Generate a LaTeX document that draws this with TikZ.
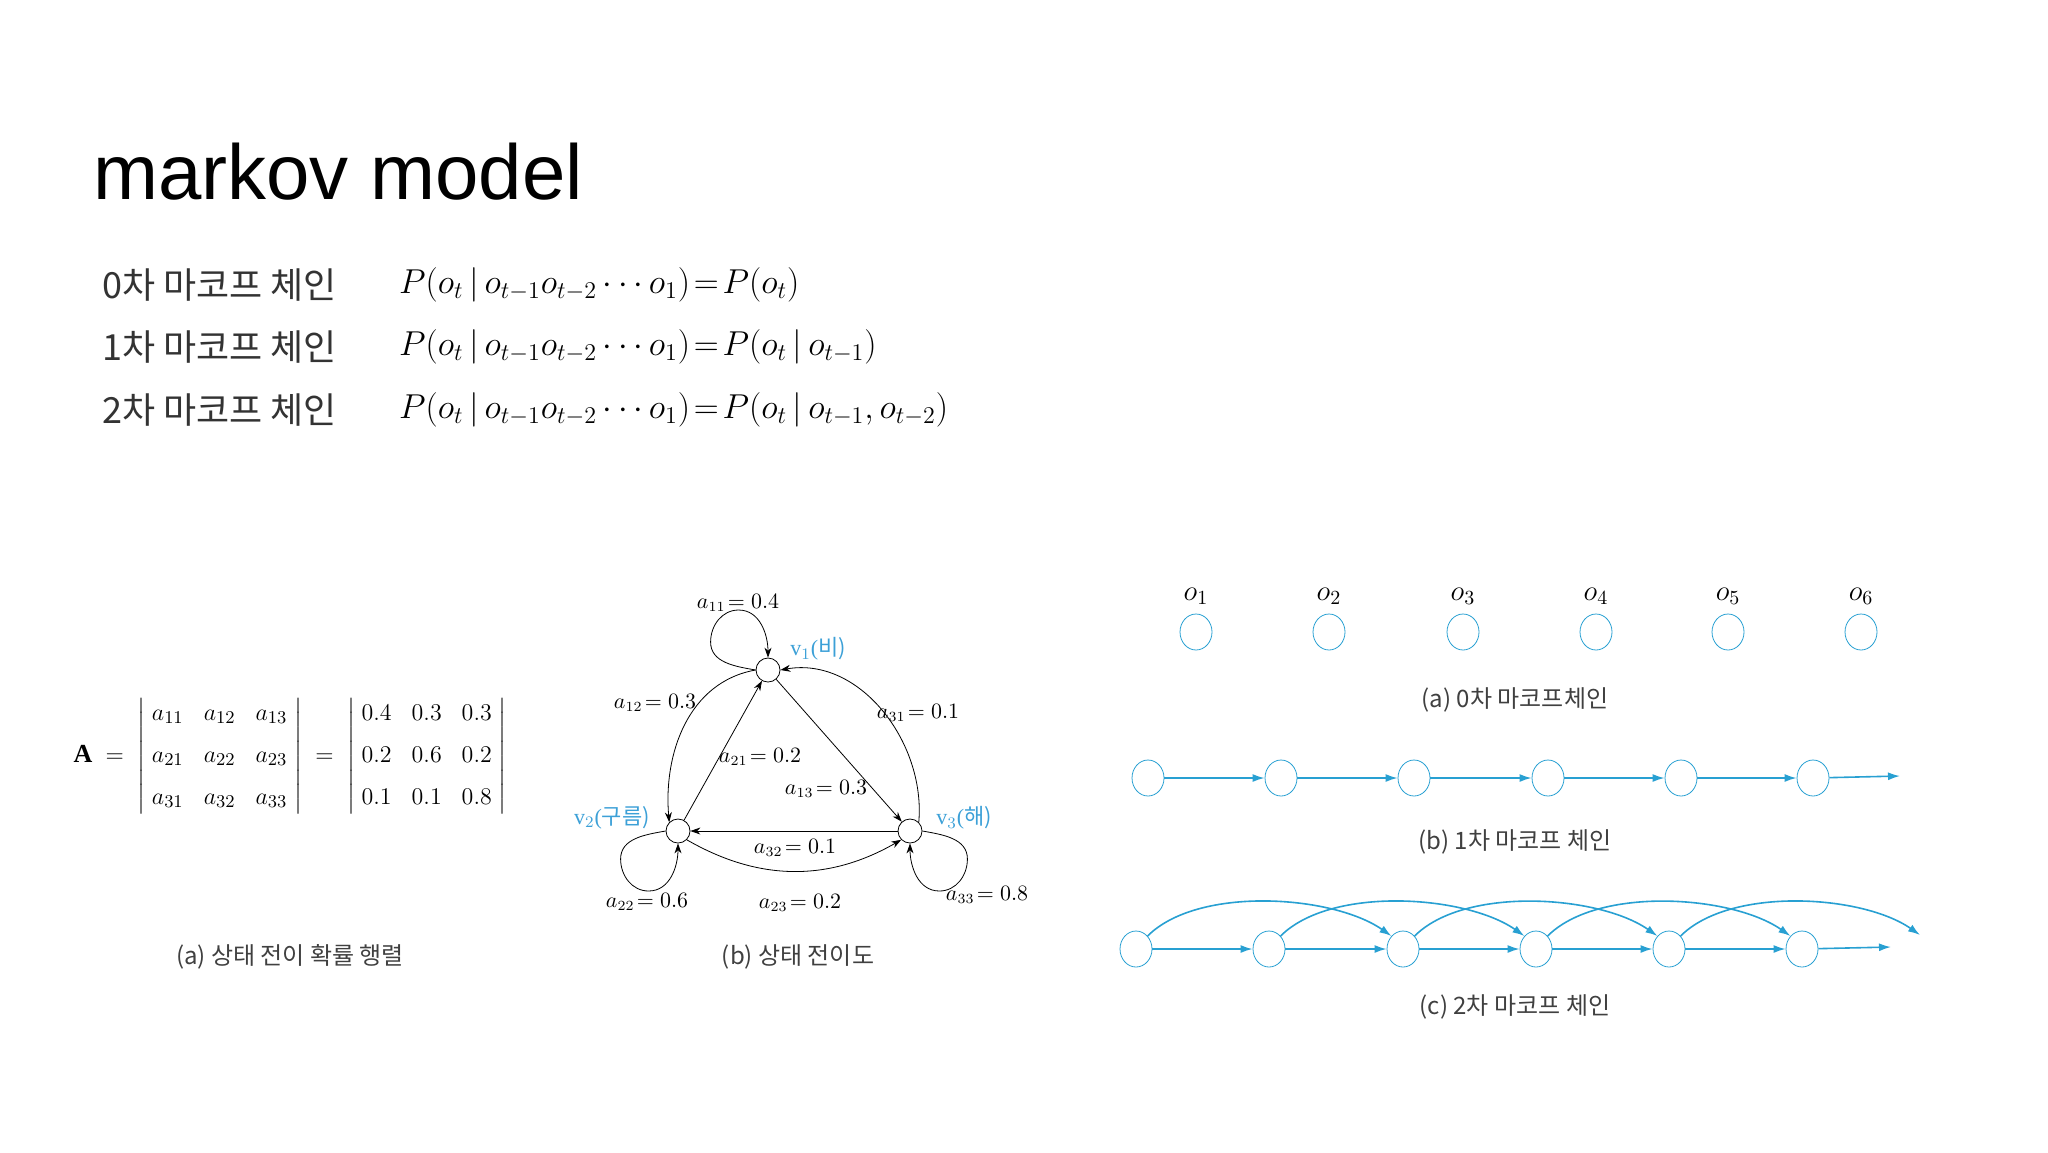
\documentclass[tikz,border=0pt]{standalone}
\usepackage{amsmath}
\usepackage{fontspec}
\setmainfont{Liberation Serif}
\newfontfamily\kr{Noto Sans CJK KR}
\newfontfamily\titlefont{Liberation Sans}
\usetikzlibrary{arrows.meta}
\usetikzlibrary{shapes.geometric}
\definecolor{chainblue}{RGB}{40,160,210}
\definecolor{labelblue}{RGB}{60,160,215}
\tikzset{
  state/.style={shape=circle, draw=black, fill=white, minimum size=12pt, inner sep=0pt},
  obs/.style={shape=ellipse, draw=chainblue, minimum width=16pt, minimum height=18pt, inner sep=0pt},
  edge/.style={-{Stealth[length=5pt,width=3.5pt]}, thin},
  chain/.style={-{Latex[length=6pt,width=4pt]}, draw=chainblue, thick},
  wlabel/.style={font=\fontsize{10.5}{12}\selectfont},
  caption/.style={font=\kr\fontsize{12}{14}\selectfont, text=black!75}
}
\begin{document}
\begin{tikzpicture}[x=0.5pt,y=-0.5pt]
    \useasboundingbox (0,0) rectangle (2048,1152);

    % title and formulas
    \node[anchor=west, font=\titlefont\fontsize{39}{43}\selectfont] (title) at (86,172) {markov model};
    \foreach \ord/\yy/\rhs in {0/285/{P(o_t)}, 1/347/{P(o_t\,|\,o_{t-1})}, 2/410/{P(o_t\,|\,o_{t-1},o_{t-2})}}{
        \node[anchor=west, font=\kr\fontsize{18}{22}\selectfont, text=black!80] (ord\ord) at (95,\yy) {\ord{}차 마코프 체인};
        \node[anchor=west, font=\fontsize{17}{20}\selectfont] (eq\ord) at (392,\yy) {$P(o_t\,|\,o_{t-1}o_{t-2}\cdots o_1)\!=\!\rhs$};
    }

    % (a) transition matrix
    \node[font=\fontsize{13}{15}\selectfont] (mat) at (290,756)
        {$\mathbf{A}\;=\;\left|\;\begin{matrix} a_{11} & a_{12} & a_{13}\\[6pt] a_{21} & a_{22} & a_{23}\\[6pt] a_{31} & a_{32} & a_{33}\end{matrix}\;\right|\;=\;\left|\;\begin{matrix} 0.4 & 0.3 & 0.3\\[6pt] 0.2 & 0.6 & 0.2\\[6pt] 0.1 & 0.1 & 0.8\end{matrix}\;\right|$};
    \node[caption] (capA) at (290,957) {(a) 상태 전이 확률 행렬};

    % (b) state diagram
    \node[state] (v1) at (768,670) {};
    \node[state] (v2) at (678,831) {};
    \node[state] (v3) at (910,831) {};
    \node[text=labelblue, font=\fontsize{11}{12}\selectfont] at (818,649) {v$_1$(\kr 비)};
    \node[text=labelblue, font=\fontsize{11}{12}\selectfont] at (612,818) {v$_2$(\kr 구름)};
    \node[text=labelblue, font=\fontsize{11}{12}\selectfont] at (964,818) {v$_3$(\kr 해)};

    \draw[edge] (v1.west) to[out=170,in=-90] ++(-45,-28) to[out=90,in=180] ++(28,-32) to[out=0,in=90] (v1.north);
    \draw[edge] (v1.west) to[out=190,in=95] (v2.north west);
    \draw[edge] (v2) -- (v1);
    \draw[edge] (v1) -- (v3);
    \draw[edge] (v3.north east) to[out=85,in=10] (v1.east);
    \draw[edge] (v3) -- (v2);
    \draw[edge] (v2.south east) to[out=-30,in=-150] (v3.south west);
    \draw[edge] (v2.west) to[out=190,in=90] ++(-45,28) to[out=-90,in=180] ++(28,32) to[out=0,in=-90] (v2.south);
    \draw[edge] (v3.east) to[out=-10,in=90] ++(45,28) to[out=-90,in=0] ++(-28,32) to[out=180,in=-90] (v3.south);

    \node[wlabel] (l11) at (738,603) {$a_{11}\!=0.4$};
    \node[wlabel] (l12) at (655,703) {$a_{12}\!=0.3$};
    \node[wlabel] (l31) at (918,713) {$a_{31}\!=0.1$};
    \node[wlabel] (l21) at (760,757) {$a_{21}\!=0.2$};
    \node[wlabel] (l13) at (826,789) {$a_{13}\!=0.3$};
    \node[wlabel] (l32) at (795,848) {$a_{32}\!=0.1$};
    \node[wlabel] (l22) at (647,902) {$a_{22}\!=0.6$};
    \node[wlabel] (l23) at (800,903) {$a_{23}\!=0.2$};
    \node[wlabel] (l33) at (987,895) {$a_{33}\!=0.8$};
    \node[caption] (capB) at (798,957) {(b) 상태 전이도};

    % (a) 0th order chain
    \foreach \i/\xx in {1/1196,2/1329,3/1463,4/1596,5/1728,6/1861}{
        \node[obs] (z\i) at (\xx,632) {};
        \node[font=\fontsize{14}{15}\selectfont] (o\i) at (\xx,596) {$o_\i$};
    }
    \node[caption] (capC) at (1515,700) {(a) 0차 마코프체인};

    % (b) 1st order chain
    \foreach \i/\xx in {1/1148,2/1281,3/1414,4/1548,5/1681,6/1813}{
        \node[obs] (f\i) at (\xx,778) {};
    }
    \coordinate (fend) at (1900,776);
    \foreach \i/\j in {1/2,2/3,3/4,4/5,5/6}{
        \draw[chain] (f\i) -- (f\j);
    }
    \draw[chain] (f6) -- (fend);
    \node[caption] (capD) at (1515,842) {(b) 1차 마코프 체인};

    % (c) 2nd order chain
    \foreach \i/\xx in {1/1136,2/1269,3/1403,4/1536,5/1669,6/1802}{
        \node[obs] (s\i) at (\xx,949) {};
    }
    \coordinate (send) at (1891,947);
    \coordinate (sfar) at (1920,935);
    \foreach \i/\j in {1/2,2/3,3/4,4/5,5/6}{
        \draw[chain] (s\i) -- (s\j);
    }
    \draw[chain] (s6) -- (send);
    \foreach \i/\j in {1/3,2/4,3/5,4/6}{
        \draw[chain] (s\i.north east) to[out=45,in=145,looseness=0.75] (s\j.north west);
    }
    \draw[chain] (s5.north east) to[out=45,in=145,looseness=0.75] (sfar);
    \node[caption] (capE) at (1515,1007) {(c) 2차 마코프 체인};
\end{tikzpicture}
\end{document}
